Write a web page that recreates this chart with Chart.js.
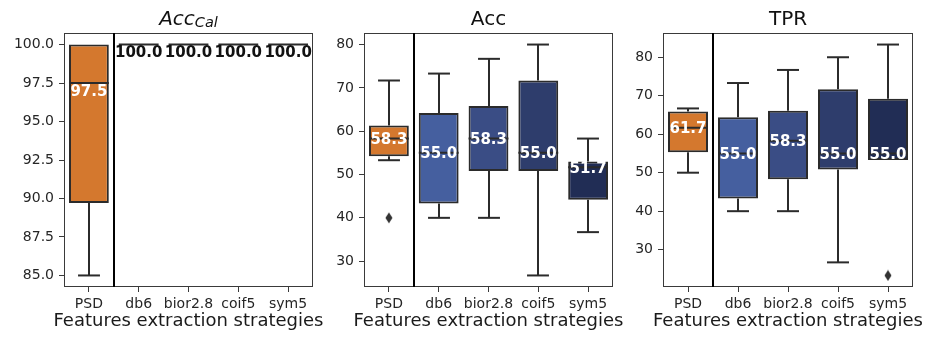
<!DOCTYPE html>
<html lang="en">
<head>
  <meta charset="UTF-8" />
  <title>Features extraction strategies</title>
  <script src="https://cdn.jsdelivr.net/npm/chart.js"></script>
  <style>
    body { margin: 0; background: #fff; }
    #wrap { position: relative; width: 927px; height: 344px; }
    #wrap canvas { position: absolute; left: 0; top: 0; }
  </style>
</head>
<body>
  <div id="wrap">
    <canvas id="accCal" width="927" height="344"></canvas>
    <canvas id="acc" width="927" height="344"></canvas>
    <canvas id="tpr" width="927" height="344"></canvas>
  </div>

  <script>
    const categories = ["PSD", "db6", "bior2.8", "coif5", "sym5"];
    const boxColors = ["#d4782e", "#455f9f", "#3a4d85", "#2e3d6c", "#212d55"];
    const xTitle = "Features extraction strategies";

    // Acc_Cal
    const accCalLow = [85, 100, 100, 100, 100];
    const accCalQ1 = [89.7, 100, 100, 100, 100];
    const accCalMed = [97.5, 100, 100, 100, 100];
    const accCalQ3 = [100, 100, 100, 100, 100];
    const accCalHigh = [100, 100, 100, 100, 100];
    const accCalOutliers = [[], [], [], [], []];
    const accCalTicks = [85, 87.5, 90, 92.5, 95, 97.5, 100];

    // Acc
    const accLow = [53.3, 40, 40, 26.7, 36.7];
    const accQ1 = [54.2, 43.3, 50.8, 50.8, 44.2];
    const accMed = [58.3, 55.0, 58.3, 55.0, 51.7];
    const accQ3 = [61.3, 64.2, 65.8, 71.7, 53.0];
    const accHigh = [71.7, 73.3, 76.7, 80, 58.3];
    const accOutliers = [[40], [], [], [], []];
    const accTicks = [30, 40, 50, 60, 70, 80];

    // TPR
    const tprLow = [50, 40, 40, 26.7, 53.3];
    const tprQ1 = [55.3, 43.3, 48.3, 50.8, 53.3];
    const tprMed = [61.7, 55.0, 58.3, 55.0, 55.0];
    const tprQ3 = [65.9, 64.4, 66.1, 71.7, 69.2];
    const tprHigh = [66.7, 73.3, 76.7, 80, 83.3];
    const tprOutliers = [[], [], [], [], [23.3]];
    const tprTicks = [30, 40, 50, 60, 70, 80];

    Chart.defaults.font.family = "'DejaVu Sans', sans-serif";
    Chart.defaults.color = "#262626";

    const INK = "#2b2b2b";

    // thin diamond marker like matplotlib's "d"
    const diamond = document.createElement("canvas");
    diamond.width = 8;
    diamond.height = 12;
    (() => {
      const c = diamond.getContext("2d");
      c.fillStyle = "#333";
      c.beginPath();
      c.moveTo(4, 0.5);
      c.lineTo(7.5, 6);
      c.lineTo(4, 11.5);
      c.lineTo(0.5, 6);
      c.closePath();
      c.fill();
    })();

    function strokeLine(ctx, x1, y1, x2, y2) {
      ctx.beginPath();
      ctx.moveTo(x1, y1);
      ctx.lineTo(x2, y2);
      ctx.stroke();
    }

    // whiskers, caps, medians, value labels, frame, PSD separator, titles
    const boxParts = {
      id: "boxParts",
      afterDatasetsDraw(chart, args, o) {
        const { ctx, chartArea: a, scales: { x, y } } = chart;
        const bars = chart.getDatasetMeta(0).data;
        const s = o.stats;
        ctx.save();

        // frame
        ctx.strokeStyle = "#3a3a3a";
        ctx.lineWidth = 1;
        ctx.strokeRect(Math.round(a.left) + 0.5, Math.round(a.top) + 0.5,
          Math.round(a.width) - 1, Math.round(a.height) - 1);

        // separator between PSD and the wavelets
        const sx = Math.round((x.getPixelForValue(0) + x.getPixelForValue(1)) / 2);
        ctx.strokeStyle = "#000";
        ctx.lineWidth = 2;
        strokeLine(ctx, sx, a.top, sx, a.bottom);

        ctx.strokeStyle = INK;
        ctx.lineWidth = 2;
        s.med.forEach((m, i) => {
          const cx = Math.round(bars[i].x);
          const half = bars[i].width / 2;
          const capHalf = half / 2 + 1;
          const pLow = y.getPixelForValue(s.low[i]);
          const pQ1 = y.getPixelForValue(s.q1[i]);
          const pQ3 = y.getPixelForValue(s.q3[i]);
          const pHigh = y.getPixelForValue(s.high[i]);
          if (s.high[i] !== s.q3[i]) {
            strokeLine(ctx, cx, pQ3, cx, pHigh);
            strokeLine(ctx, cx - capHalf, pHigh, cx + capHalf, pHigh);
          }
          if (s.low[i] !== s.q1[i]) {
            strokeLine(ctx, cx, pQ1, cx, pLow);
            strokeLine(ctx, cx - capHalf, pLow, cx + capHalf, pLow);
          }
          const pm = y.getPixelForValue(m);
          strokeLine(ctx, bars[i].x - half, pm, bars[i].x + half, pm);
        });

        ctx.font = "bold 15px 'DejaVu Sans'";
        ctx.textAlign = "center";
        ctx.textBaseline = "middle";
        s.med.forEach((m, i) => {
          ctx.fillStyle = s.q1[i] === s.q3[i] ? "#111" : "#fff";
          ctx.fillText(m.toFixed(1), bars[i].x, y.getPixelForValue(m) + o.labelOffset);
        });

        // x axis title (drawn here so it is not squeezed to the axis width)
        const cxArea = (a.left + a.right) / 2;
        ctx.fillStyle = "#1a1a1a";
        ctx.font = "18px 'DejaVu Sans'";
        ctx.textBaseline = "alphabetic";
        ctx.fillText(xTitle, cxArea, 325.5);

        // chart title (parts allow a subscript)
        let w = 0;
        o.title.forEach(p => {
          ctx.font = `${p.italic ? "italic " : ""}${p.size}px 'DejaVu Sans'`;
          p.w = ctx.measureText(p.text).width;
          w += p.w;
        });
        let tx = cxArea - w / 2;
        ctx.fillStyle = "#111";
        ctx.textAlign = "left";
        o.title.forEach(p => {
          ctx.font = `${p.italic ? "italic " : ""}${p.size}px 'DejaVu Sans'`;
          ctx.fillText(p.text, tx, 24.5 + p.dy);
          tx += p.w;
        });
        ctx.restore();
      }
    };

    function makeBoxChart(id, st, look) {
      const extremes = st.low.concat(st.high, st.outliers.flat());
      const lo = Math.min(...extremes);
      const hi = Math.max(...extremes);
      const margin = (hi - lo) * 0.05;
      const outlierPoints = [];
      st.outliers.forEach((list, i) => list.forEach(v => outlierPoints.push({ x: categories[i], y: v })));

      return new Chart(document.getElementById(id), {
        type: "bar",
        data: {
          labels: categories,
          datasets: [
            {
              data: categories.map((c, i) => [st.q1[i], st.q3[i]]),
              backgroundColor: boxColors,
              borderColor: INK,
              borderWidth: 2,
              borderSkipped: false,
              barPercentage: 0.8,
              categoryPercentage: 1.0
            },
            {
              type: "line",
              data: outlierPoints,
              showLine: false,
              pointStyle: diamond,
              pointRadius: 5
            }
          ]
        },
        options: {
          responsive: false,
          animation: false,
          events: [],
          layout: { padding: { left: look.padLeft, right: look.padRight, top: 33, bottom: 0 } },
          plugins: {
            legend: { display: false },
            tooltip: { enabled: false },
            boxParts: {
              stats: st,
              labelOffset: look.labelOffset,
              title: look.title
            }
          },
          scales: {
            x: {
              offset: true,
              grid: { display: true, offset: false, drawOnChartArea: false, tickLength: 5, color: "#3a3a3a" },
              border: { display: false },
              ticks: { font: { size: 14 }, color: "#262626", padding: 4, maxRotation: 0, autoSkip: false },
              afterFit: scale => { scale.height = 57; }
            },
            y: {
              min: lo - margin,
              max: hi + margin,
              grid: { display: true, drawOnChartArea: false, tickLength: 5, color: "#3a3a3a" },
              border: { display: false },
              ticks: {
                font: { size: 14 },
                color: "#262626",
                padding: 5,
                callback: v => look.decimals ? v.toFixed(look.decimals) : String(v)
              },
              afterBuildTicks: scale => { scale.ticks = look.ticks.map(v => ({ value: v })); },
              afterFit: scale => { scale.width = look.axisWidth; }
            }
          }
        },
        plugins: [boxParts]
      });
    }

    makeBoxChart("accCal",
      { low: accCalLow, q1: accCalQ1, med: accCalMed, q3: accCalQ3, high: accCalHigh, outliers: accCalOutliers },
      {
        padLeft: 0, axisWidth: 64, padRight: 614, labelOffset: 9, decimals: 1, ticks: accCalTicks,
        title: [
          { text: "Acc", size: 20, italic: true, dy: 0 },
          { text: "Cal", size: 14.5, italic: true, dy: 2.5 }
        ]
      });

    makeBoxChart("acc",
      { low: accLow, q1: accQ1, med: accMed, q3: accQ3, high: accHigh, outliers: accOutliers },
      {
        padLeft: 320, axisWidth: 44, padRight: 314, labelOffset: 1.5, decimals: 0, ticks: accTicks,
        title: [{ text: "Acc", size: 20, italic: false, dy: 0 }]
      });

    makeBoxChart("tpr",
      { low: tprLow, q1: tprQ1, med: tprMed, q3: tprQ3, high: tprHigh, outliers: tprOutliers },
      {
        padLeft: 620, axisWidth: 43, padRight: 14, labelOffset: 1.5, decimals: 0, ticks: tprTicks,
        title: [{ text: "TPR", size: 20, italic: false, dy: 0 }]
      });
  </script>
</body>
</html>
